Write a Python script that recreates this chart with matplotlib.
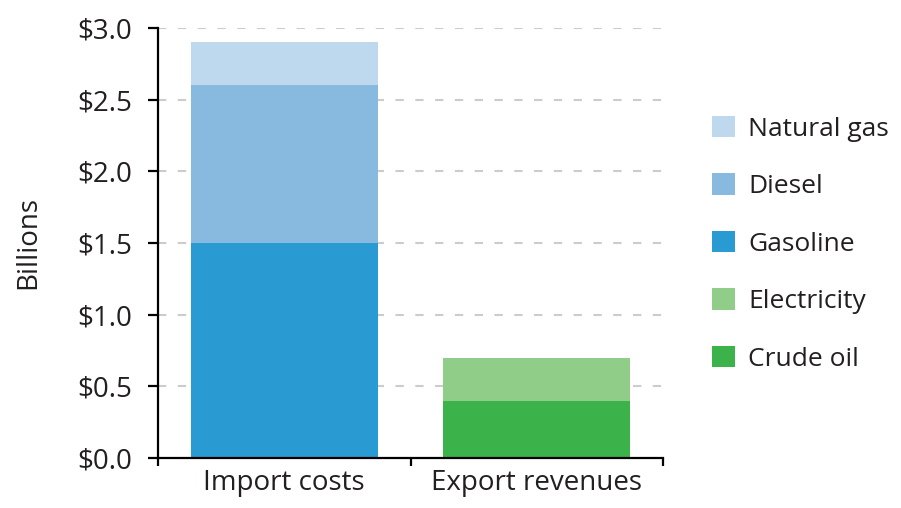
import numpy as np
import matplotlib.pyplot as plt
from matplotlib.patches import Patch

# values in billions of dollars
categories = ['Import costs', 'Export revenues']
import_parts = ['Gasoline', 'Diesel', 'Natural gas']
import_vals = [1.5, 1.1, 0.3]
export_parts = ['Crude oil', 'Electricity']
export_vals = [0.4, 0.3]

colors = {
    'Natural gas': '#bed8ee',
    'Diesel': '#88b9de',
    'Gasoline': '#2a9bd2',
    'Electricity': '#8fcd89',
    'Crude oil': '#3bb34a',
}
legend_order = ['Natural gas', 'Diesel', 'Gasoline', 'Electricity', 'Crude oil']

plt.rcParams['font.family'] = ['Open Sans', 'DejaVu Sans']
txt = '#231f20'

fig = plt.figure(figsize=(9.01, 5.08), dpi=100)
ax = fig.add_axes([0.1754, 0.0984, 0.5606, 0.8466])

x = np.array([0.5, 1.5])
width = 0.74

bottom = 0
for name, v in zip(import_parts, import_vals):
    ax.bar(x[0], v, width, bottom=bottom, color=colors[name], zorder=2)
    bottom += v
bottom = 0
for name, v in zip(export_parts, export_vals):
    ax.bar(x[1], v, width, bottom=bottom, color=colors[name], zorder=2)
    bottom += v

ax.set_xlim(0, 2)
ax.set_ylim(0, 3.0)
yt = np.arange(0, 3.01, 0.5)
ax.set_yticks(yt)
ax.set_yticklabels([f'${t:.1f}' for t in yt])
for t in yt[1:]:
    ax.axhline(t, color='#cccccc', lw=1.5, ls=(0, (4, 5.5)), zorder=1)

ax.set_xticks([0, 1, 2])
ax.set_xticklabels([])
ax.set_xticks(x, minor=True)
ax.set_xticklabels(categories, minor=True)
ax.tick_params(axis='x', which='minor', length=0, pad=8, labelsize=20, colors=txt)
ax.tick_params(axis='x', which='major', length=6, width=1.6, direction='out')
ax.tick_params(axis='y', length=7.5, width=1.6, direction='out', labelsize=20,
               labelcolor=txt, pad=11)

for s in ['top', 'right']:
    ax.spines[s].set_visible(False)
for s in ['left', 'bottom']:
    ax.spines[s].set_linewidth(1.6)

ax.set_ylabel('Billions', fontsize=20, color=txt)
ax.yaxis.set_label_coords(-0.23, 0.5)

handles = [Patch(facecolor=colors[n], edgecolor='none') for n in legend_order]
ax.legend(handles, legend_order, loc='upper left', bbox_to_anchor=(1.076, 0.82),
          frameon=False, fontsize=19, handlelength=0.87, handleheight=0.87,
          handletextpad=0.5, labelspacing=1.2, borderaxespad=0,
          labelcolor=txt)

fig.savefig('out.png', dpi=100)
